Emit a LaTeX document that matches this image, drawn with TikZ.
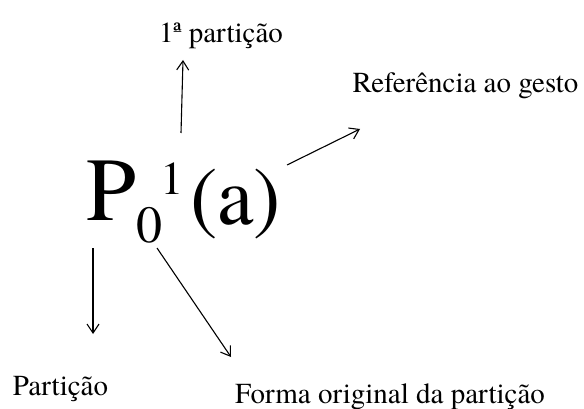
\documentclass[tikz,border=0pt]{standalone}
\usepackage{fontspec}
\setmainfont{TeX Gyre Termes}
\usetikzlibrary{arrows.meta}
\begin{document}
\begin{tikzpicture}[x=1pt,y=-1pt,
  lbl/.style={anchor=base,inner sep=0pt,font=\fontsize{29}{34}\selectfont},
  glyph/.style={anchor=base west,inner sep=0pt},
  arr/.style={draw=black,line width=1.1pt,-{Straight Barb[length=9pt,width=12pt,line width=1.1pt]}}]
\useasboundingbox (0,0) rectangle (584,409);
% formula
\node[glyph,font=\fontsize{90}{100}\selectfont] (P) at (86,220) {P};
\node[glyph,font=\fontsize{52}{60}\selectfont] (sub) at (136,242) {0};
\node[glyph,font=\fontsize{47}{56}\selectfont] (sup) at (160,195) {1};
\node[glyph,font=\fontsize{82}{92}\selectfont] (arg) at (190,224) {(a)};
% labels
\node[lbl] (first) at (221,43) {1ª partição};
\node[lbl] (ref) at (465.5,93) {Referência ao gesto};
\node[lbl] (part) at (60.5,395) {Partição};
\node[lbl] (forma) at (390,403) {Forma original da partição};
% arrow ends
\coordinate (s1) at (181,133); \coordinate (e1) at (183,60);
\coordinate (s2) at (287,165); \coordinate (e2) at (360,129);
\coordinate (s3) at (93,248);  \coordinate (e3) at (93,334);
\coordinate (s4) at (157,248); \coordinate (e4) at (231,357);
\draw[arr] (s1) -- (e1);
\draw[arr] (s2) -- (e2);
\draw[arr] (s3) -- (e3);
\draw[arr] (s4) -- (e4);
\end{tikzpicture}
\end{document}
